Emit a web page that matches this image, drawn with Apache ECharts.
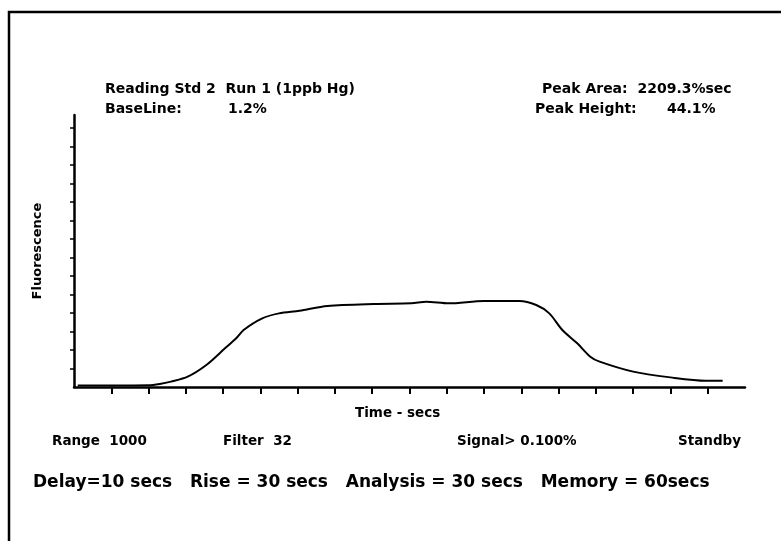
<!DOCTYPE html>
<html>
<head>
<meta charset="utf-8">
<style>
  html, body { margin: 0; padding: 0; background: #fff; }
  #main { width: 781px; height: 541px; }
</style>
<script src="https://cdn.jsdelivr.net/npm/echarts@6/dist/echarts.min.js"></script>
</head>
<body>
<div id="main"></div>
<script>
// time in tick units, fluorescence in %
var timeSecs = [0.1, 1.0, 2.0, 2.3, 2.6, 3.05, 3.55, 4.05, 4.35, 4.55, 5.05, 5.5, 6.05, 6.8, 8.05, 9.05, 9.45, 10.05, 11.0, 11.95, 12.4, 12.75, 13.1, 13.5, 13.85, 14.1, 15.0, 16.0, 16.95, 17.4];
var fluor = [0.8, 0.8, 0.9, 1.6, 2.9, 5.6, 11.9, 20.9, 26.3, 30.8, 37.1, 39.8, 41.2, 43.8, 44.9, 45.2, 46.1, 45.2, 46.5, 46.5, 44.3, 39.8, 30.8, 23.6, 16.4, 13.7, 8.3, 5.2, 3.4, 3.4];
var timeTicks = [1, 2, 3, 4, 5, 6, 7, 8, 9, 10, 11, 12, 13, 14, 15, 16, 17];
var fluorTicks = [10, 20, 30, 40, 50, 60, 70, 80, 90, 100, 110, 120, 130, 140];

var font = 'DejaVu Sans';
function txt(x, y, s, size) {
  return {
    type: 'text', left: x, top: y,
    style: { text: s, fill: '#000', font: 'bold ' + (size || 13) + 'px "' + font + '"' }
  };
}

var myChart = echarts.init(document.getElementById('main'));
myChart.setOption({
  animation: false,
  backgroundColor: '#fff',
  grid: { left: 74, right: 36, top: 115, bottom: 154 },
  xAxis: {
    type: 'value',
    min: 0, max: 18,
    axisLine: { lineStyle: { color: '#000', width: 2.5 } },
    axisTick: { show: true, length: 7, lineStyle: { color: '#000', width: 2 }, customValues: timeTicks },
    axisLabel: { show: false },
    splitLine: { show: false }
  },
  yAxis: {
    type: 'value',
    min: 0, max: 147,
    name: 'Fluorescence',
    nameLocation: 'middle',
    nameGap: 30,
    nameRotate: 90,
    nameTextStyle: { color: '#000', fontFamily: font, fontWeight: 'bold', fontSize: 13 },
    axisLine: { show: true, lineStyle: { color: '#000', width: 2.5 } },
    axisTick: { show: true, length: 4, lineStyle: { color: '#000', width: 1.5 }, customValues: fluorTicks },
    axisLabel: { show: false },
    splitLine: { show: false }
  },
  series: [{
    type: 'line',
    data: timeSecs.map(function (t, i) { return [t, fluor[i]]; }),
    smooth: 0.3,
    showSymbol: false,
    lineStyle: { color: '#000', width: 2 }
  }],
  graphic: [
    {
      type: 'polyline',
      shape: { points: [[9, 541], [9, 12], [781, 12]] },
      style: { stroke: '#000', lineWidth: 2.5, fill: null }
    },
    txt(105, 82, 'Reading Std 2  Run 1 (1ppb Hg)', 14),
    txt(105, 102, 'BaseLine:', 14),
    txt(228, 102, '1.2%', 14),
    txt(542, 82, 'Peak Area:  2209.3%sec', 14),
    txt(535, 102, 'Peak Height:', 14),
    txt(667, 102, '44.1%', 14),
    txt(355, 406, 'Time - secs', 13.5),
    txt(52, 434, 'Range  1000', 13.5),
    txt(223, 434, 'Filter  32', 13.5),
    txt(457, 434, 'Signal> 0.100%', 13.5),
    txt(678, 434, 'Standby', 13.5),
    txt(33, 474, 'Delay=10 secs   Rise = 30 secs   Analysis = 30 secs   Memory = 60secs', 17)
  ]
});
</script>
</body>
</html>
